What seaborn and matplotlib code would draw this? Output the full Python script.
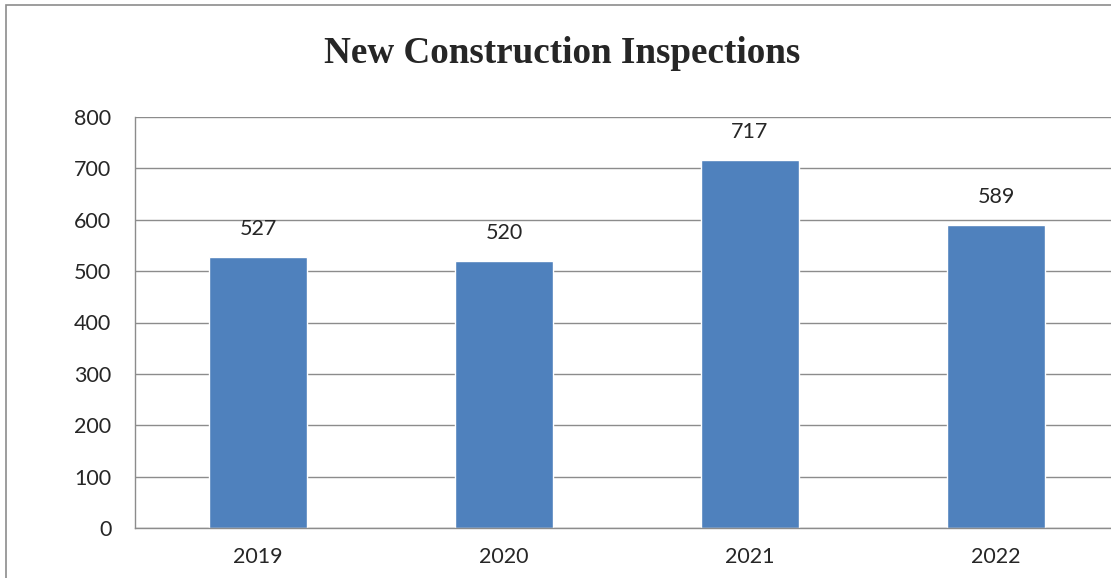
#!/usr/bin/env python3
import pandas as pd
import seaborn as sns
import matplotlib.pyplot as plt
from matplotlib.patches import Rectangle
from matplotlib.ticker import FixedLocator

years = ['2019', '2020', '2021', '2022']
inspections = [527, 520, 717, 589]
y_ticks = [0, 100, 200, 300, 400, 500, 600, 700, 800]

df = pd.DataFrame({'year': years, 'inspections': inspections})

sns.set_style('white')
plt.rcParams['font.family'] = ['Lato', 'DejaVu Sans']

W, H = 1111, 578
fig = plt.figure(figsize=(W / 100, H / 100), dpi=100)

# plot area runs a bit past the right edge, like the cropped original
ax = fig.add_axes([135 / W, 50 / H, 984 / W, 411 / H])
sns.barplot(data=df, x='year', y='inspections', color='#4F81BD', saturation=1,
            width=0.4, ax=ax)

ax.set_xlim(-0.5, 3.5)
ax.set_ylim(0, 800)
ax.set_yticks(y_ticks)
ax.yaxis.grid(True, color='#8c8c8c', linewidth=1)
ax.set_axisbelow(True)
ax.set(xlabel=None, ylabel=None)

for side in ['top', 'right']:
    ax.spines[side].set_visible(False)
for side in ['left', 'bottom']:
    ax.spines[side].set_color('#8c8c8c')
    ax.spines[side].set_linewidth(1)

ax.tick_params(axis='y', length=6, width=1, color='#8c8c8c', pad=11, labelsize=15.5)
ax.tick_params(axis='x', which='major', length=0, pad=14, labelsize=15.5)
ax.xaxis.set_minor_locator(FixedLocator([-0.5, 0.5, 1.5, 2.5, 3.5]))
ax.tick_params(axis='x', which='minor', length=6, width=1, color='#8c8c8c')

ax.bar_label(ax.containers[0], padding=13, fontsize=15.5)

fig.text(562 / W, 1 - 63 / H, 'New Construction Inspections', ha='center', va='baseline',
         family='Liberation Serif', fontweight='bold', fontsize=26.7)

# outer chart border (cropped on the right and bottom)
fig.patches.append(Rectangle((5.5 / W, -0.1), 1.2, 1 - 5.5 / H + 0.1, transform=fig.transFigure,
                             fill=False, edgecolor='#8c8c8c', linewidth=1.2))

plt.savefig('out.png', dpi=100)
